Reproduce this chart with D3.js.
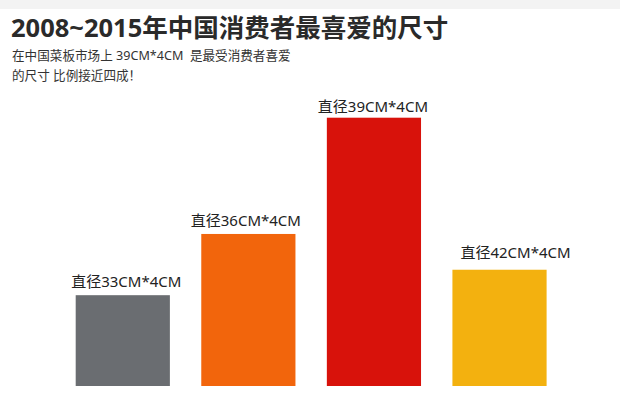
<!DOCTYPE html>
<html>
<head>
<meta charset="utf-8">
<script src="https://cdn.jsdelivr.net/npm/d3@7.9.0/dist/d3.min.js"></script>
<style>
  html, body { margin: 0; padding: 0; background: #fff; }
  svg { display: block; font-family: "Noto Sans", "Noto Sans CJK SC", sans-serif; }
  .sub { white-space: pre; }
</style>
</head>
<body>
<svg id="chart" width="620" height="394"></svg>
<script>
// sizes (categories) and share of consumers
const sizes = ['直径33CM*4CM', '直径36CM*4CM', '直径39CM*4CM', '直径42CM*4CM'];
const shares = [13.2, 22.1, 39, 16.9];
const barColors = ['#6a6d71', '#f2650c', '#d8120b', '#f3b10f'];

const title = '2008~2015年中国消费者最喜爱的尺寸';
const subtitle = ['在中国菜板市场上 39CM*4CM  是最受消费者喜爱', '的尺寸 比例接近四成！'];

// the labels in the original are placed by hand, not exactly centred
const labelDx = [3.5, -2.5, -1, 16];
const labelDy = [8, 8, 6, 12];

const svg = d3.select('#chart');

// light strip along the top
svg.append('rect')
  .attr('x', 0).attr('y', 0)
  .attr('width', 620).attr('height', 9)
  .attr('fill', '#f3f3f3');

svg.append('text')
  .attr('x', 11).attr('y', 37)
  .attr('font-size', 25.5)
  .attr('font-weight', 'bold')
  .attr('fill', '#2a2a2a')
  .text(title);

svg.selectAll('text.sub')
  .data(subtitle)
  .join('text')
  .attr('class', 'sub')
  .attr('x', 12)
  .attr('y', (d, i) => 60 + i * 20)
  .attr('font-size', 12.6)
  .attr('fill', '#333')
  .text(d => d);

const data = sizes.map((s, i) => ({ size: s, share: shares[i] }));

const x = d3.scaleBand()
  .domain(sizes)
  .range([60, 562.3])
  .paddingInner(0.25)
  .paddingOuter(0.125);

const y = d3.scaleLinear()
  .domain([0, 39])
  .range([386, 117.7]);

svg.selectAll('rect.bar')
  .data(data)
  .join('rect')
  .attr('class', 'bar')
  .attr('x', d => x(d.size))
  .attr('y', d => y(d.share))
  .attr('width', x.bandwidth())
  .attr('height', d => y(0) - y(d.share))
  .attr('fill', (d, i) => barColors[i]);

svg.selectAll('text.label')
  .data(data)
  .join('text')
  .attr('class', 'label')
  .attr('x', (d, i) => x(d.size) + x.bandwidth() / 2 + labelDx[i])
  .attr('y', (d, i) => y(d.share) - labelDy[i])
  .attr('text-anchor', 'middle')
  .attr('font-size', 15)
  .attr('fill', '#222')
  .text(d => d.size);
</script>
</body>
</html>
